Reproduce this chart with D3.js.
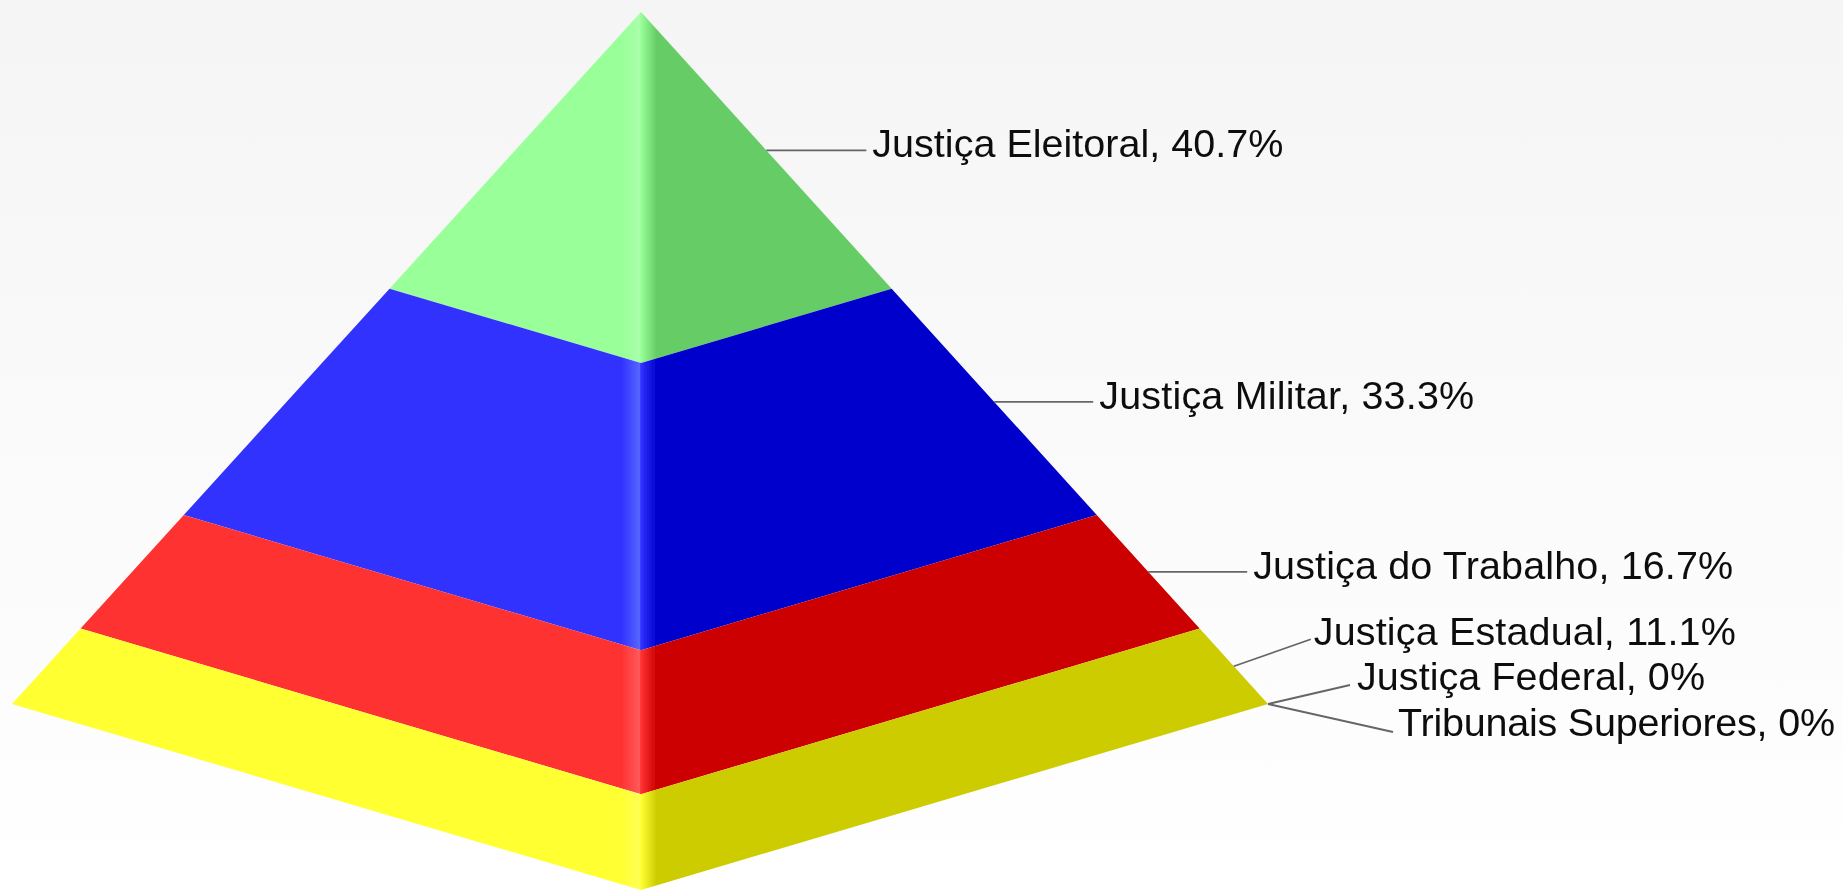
<!DOCTYPE html>
<html>
<head>
<meta charset="utf-8">
<style>
html,body{margin:0;padding:0;overflow:hidden;background:#fff}
svg{display:block}
text{font-family:"Liberation Sans",Arial,sans-serif;fill:#111}
</style>
<script src="https://cdn.jsdelivr.net/npm/d3@7/dist/d3.min.js"></script>
</head>
<body>
<script>
const categories = ["Justiça Eleitoral","Justiça Militar","Justiça do Trabalho","Justiça Estadual","Justiça Federal","Tribunais Superiores"];
const values = [40.7,33.3,16.7,11.1,0,0];
const valueLabels = ["40.7%","33.3%","16.7%","11.1%","0%","0%"];
const lightColors = ["#99ff99","#3333ff","#ff3333","#ffff33","#ffff33","#ffff33"];
const highlightColors = ["#aaffaa","#5566ff","#ff5a5a","#ffff55","#ffff55","#ffff55"];
const darkColors = ["#66cc66","#0000cc","#cc0000","#cccc00","#cccc00","#cccc00"];
// leader end relative to the leader's start on the edge
const leaderOffsets = [[100,0],[99,0],[99,0],[77,-27],[82,-19],[125,28]];
// label baseline relative to the leader's end
const labelOffsets = [[6,7],[6,7],[6,7],[3,6],[7,5],[5,4]];
// rendered label widths
const labelWidths = [411,375,480,422,348,437];

const W = 1843, H = 890;
const apex = {x:641,y:12}, leftTip = {x:12,y:704}, rightTip = {x:1268,y:704}, frontTip = {x:641,y:890};
const total = d3.sum(values);
const t = d3.scaleLinear().domain([0,total]).range([0,1]);
const lerp = (a,b,k)=>[a.x+(b.x-a.x)*k,a.y+(b.y-a.y)*k];

const svg = d3.select("body").append("svg").attr("width",W).attr("height",H);
const defs = svg.append("defs");
const bg = defs.append("linearGradient").attr("id","bg").attr("x1",0).attr("y1",0).attr("x2",0).attr("y2",1);
bg.append("stop").attr("offset",0).attr("stop-color","#f5f5f5");
bg.append("stop").attr("offset",1).attr("stop-color","#ffffff");
const soft = defs.append("filter").attr("id","soft").attr("x","-2%").attr("y","-20%").attr("width","104%").attr("height","140%");
soft.append("feGaussianBlur").attr("stdDeviation",0.45);
const softer = defs.append("filter").attr("id","softer").attr("filterUnits","userSpaceOnUse")
  .attr("x",0).attr("y",0).attr("width",W).attr("height",H);
softer.append("feGaussianBlur").attr("stdDeviation",0.7);
svg.append("rect").attr("width",W).attr("height",H).attr("fill","url(#bg)");

let cum = 0;
const bands = values.map((v,i)=>{const b={i,v,start:cum,end:cum+v,mid:cum+v/2};cum+=v;return b;});
const line = d3.line();

bands.forEach(b=>{
  const g = defs.append("linearGradient").attr("id","band"+b.i).attr("gradientUnits","userSpaceOnUse")
    .attr("x1",622).attr("x2",658).attr("y1",0).attr("y2",0);
  [[0,lightColors[b.i]],[0.49,highlightColors[b.i]],[0.52,lightColors[b.i]],[0.97,darkColors[b.i]],[1,darkColors[b.i]]]
    .forEach(s=>g.append("stop").attr("offset",s[0]).attr("stop-color",s[1]));
});

const faces = svg.append("g").attr("filter","url(#softer)");
faces.selectAll("path").data(bands.filter(b=>b.v>0)).join("path")
  .attr("fill",b=>`url(#band${b.i})`)
  .attr("d",b=>{
    const a=t(b.start), z=t(b.end);
    return line([lerp(apex,leftTip,a),lerp(apex,frontTip,a),lerp(apex,rightTip,a),
                 lerp(apex,rightTip,z),lerp(apex,frontTip,z),lerp(apex,leftTip,z)])+"Z";
  });

const labels = svg.append("g");
bands.forEach(b=>{
  const p = lerp(apex,rightTip,t(b.mid));
  const off = leaderOffsets[b.i], lo = labelOffsets[b.i];
  labels.append("line").attr("x1",p[0]).attr("y1",p[1]).attr("x2",p[0]+off[0]).attr("y2",p[1]+off[1])
    .attr("stroke","#666").attr("stroke-width",1.8).attr("filter","url(#softer)");
  labels.append("text").attr("x",p[0]+off[0]+lo[0]).attr("y",p[1]+off[1]+lo[1])
    .attr("font-size",39.5).attr("filter","url(#soft)")
    .attr("textLength",labelWidths[b.i]).attr("lengthAdjust","spacing")
    .text(`${categories[b.i]}, ${valueLabels[b.i]}`);
});
</script>
</body>
</html>
